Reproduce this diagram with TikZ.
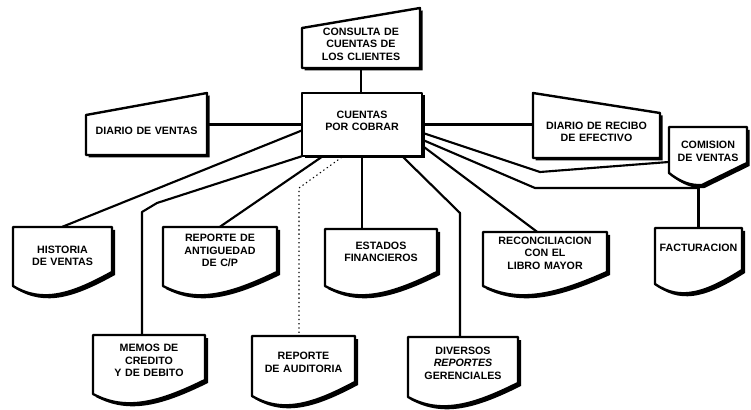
\documentclass[tikz,border=0pt]{standalone}
\usepackage{fontspec}
\setmainfont{Liberation Sans}
\usetikzlibrary{fit,calc}
\tikzset{
  boxline/.style={draw=black, fill=white, line width=1.8pt, line join=round},
  shadowfill/.style={fill=black},
  conn/.style={draw=black, line width=1.6pt, line join=round},
  dotconn/.style={draw=black, line width=0.8pt, dash pattern=on 1pt off 2.2pt},
  txt/.style={font=\fontsize{8}{9.4}\selectfont\bfseries, align=center, inner sep=0pt},
}
% document shape: [fit extra]{name}{x1}{top}{x2}{yR}{text}
\newcommand{\docbox}[7][10]{%
  \fill[shadowfill,shift={(3,3)}] (#3,#4) -- (#5,#4) -- (#5,#6)
     .. controls ({#3+0.6*(#5-#3)},{#6+22}) and ({#3+0.3*(#5-#3)},{#6+32}) .. (#3,{#6+14}) -- cycle;
  \filldraw[boxline] (#3,#4) -- (#5,#4) -- (#5,#6)
     .. controls ({#3+0.6*(#5-#3)},{#6+22}) and ({#3+0.3*(#5-#3)},{#6+32}) .. (#3,{#6+14}) -- cycle;
  \node[fit={(#3,#4) (#5,{#6+#1})}, txt] (#2) {#7};
}
% manual input shape: {name}{x1}{x2}{topL}{topR}{bot}{text}
\newcommand{\manbox}[7]{%
  \fill[shadowfill,shift={(2.5,2.5)}] (#2,#4) -- (#3,#5) -- (#3,#6) -- (#2,#6) -- cycle;
  \filldraw[boxline] (#2,#4) -- (#3,#5) -- (#3,#6) -- (#2,#6) -- cycle;
  \node[fit={(#2,{max(#4,#5)}) (#3,#6)}, txt] (#1) {#7};
}
\begin{document}
\begin{tikzpicture}[x=0.75pt,y=-0.75pt]
\useasboundingbox (0,0) rectangle (751,410);

% central box
\fill[shadowfill,shift={(2.5,2.5)}] (302,93) rectangle (422,156);
\filldraw[boxline] (302,93) rectangle (422,156);
\node[fit={(302,93) (422,156)}, txt] (cxc) {CUENTAS\\POR COBRAR};

% manual input boxes
\manbox{con}{302}{420}{28}{8}{68}{CONSULTA DE\\CUENTAS DE\\LOS CLIENTES}
\manbox{dv}{86}{207}{115}{93}{155}{DIARIO DE VENTAS}
\manbox{rb}{533}{660}{93}{113}{158}{DIARIO DE RECIBO\\DE EFECTIVO}

% comision de ventas
\fill[shadowfill,shift={(2.5,3)}] (669,127) -- (747,127) -- (747,163) -- (702,185)
   .. controls (690,186) and (679,181) .. (669,173) -- cycle;
\filldraw[boxline] (669,127) -- (747,127) -- (747,163) -- (702,185)
   .. controls (690,186) and (679,181) .. (669,173) -- cycle;
\node[fit={(669,127) (747,183)}, txt] (com) {COMISION\\DE VENTAS};
\coordinate (comlow) at (698,186);

% document boxes
\docbox[20]{hist}{13}{227}{112}{272}{HISTORIA\\DE VENTAS}
\docbox{ant}{163}{227}{277}{272}{REPORTE DE\\ANTIGUEDAD\\DE C/P}
\docbox{est}{325}{229}{437}{272}{ESTADOS\\FINANCIEROS}
\docbox{rec}{483}{232}{607}{272}{RECONCILIACION\\CON EL\\LIBRO MAYOR}
\docbox[6]{fac}{655}{228}{742}{270}{FACTURACION}
\docbox[14]{mem}{93}{335}{205}{380}{MEMOS DE\\CREDITO\\Y DE DEBITO}
\docbox[14]{aud}{252}{336}{355}{382}{REPORTE\\DE AUDITORIA}
\docbox[14]{div}{408}{337}{518}{383}{DIVERSOS\\\textit{REPORTES}\\GERENCIALES}

% connectors
\draw[conn] (con.south) -- (con.south |- cxc.north);
\draw[conn] (cxc.west) -- (cxc.west -| dv.east);
\draw[conn] (cxc.east) -- (cxc.east -| rb.west);
\draw[conn] ($(cxc.west)+(0,6)$) -- (hist.north);
\coordinate (memA) at (157,203);
\coordinate (memB) at (142,212);
\draw[conn] (cxc.south west) -- (memA) -- (memB) -- (memB |- mem.north);
\draw[conn] ($(cxc.south west)+(21,0)$) -- (ant.north);
\coordinate (audA) at (299,188);
\draw[dotconn] ($(cxc.south west)+(40,1)$) -- (audA) -- (audA |- aud.north);
\draw[conn] (cxc.south) -- (cxc.south |- est.north);
\coordinate (divA) at (460,213);
\draw[conn] ($(cxc.south east)+(-20,0)$) -- (divA) -- (divA |- div.north);
\draw[conn] ($(cxc.north east)+(0,53)$) -- ($(rec.north)+(-8,0)$);
\coordinate (comA) at (540,172);
\draw[conn] ($(cxc.north east)+(0,40)$) -- (comA) -- ($(com.west)+(0,7)$);
\coordinate (facA) at (535,188);
\draw[conn] ($(cxc.north east)+(0,47)$) -- (facA) -- (facA -| fac.north);
\draw[conn] (fac.north |- comlow) -- (fac.north);
\end{tikzpicture}
\end{document}
